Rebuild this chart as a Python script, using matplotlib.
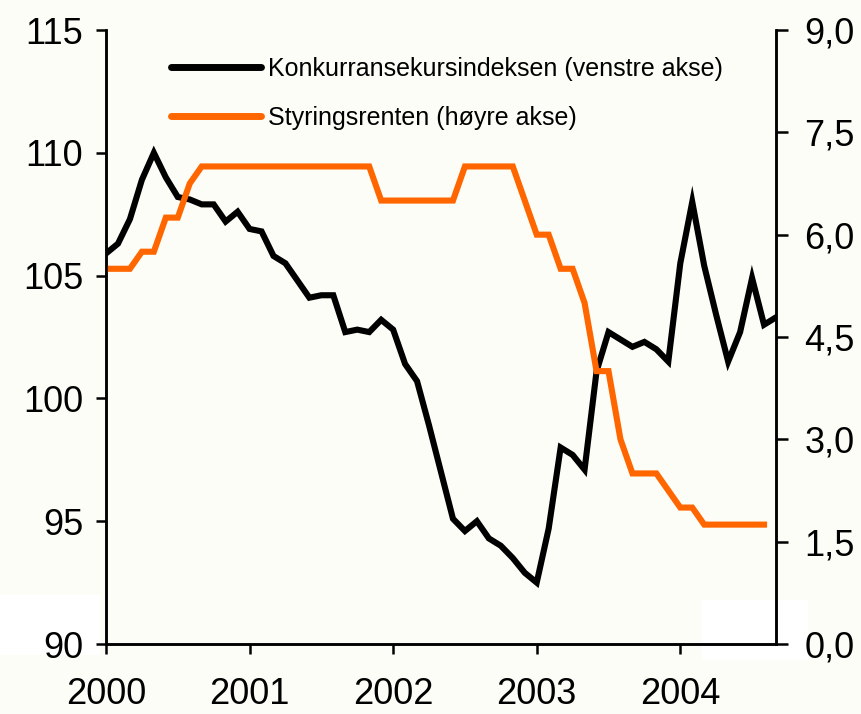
import matplotlib
matplotlib.use("Agg")
import matplotlib.pyplot as plt
from matplotlib.patches import Rectangle

# Monthly data, Jan 2000 .. Sep 2004
kki = [105.9, 106.3, 107.3, 108.9, 110.0, 109.0, 108.2, 108.1, 107.9, 107.9, 107.2, 107.6,
       106.9, 106.8, 105.8, 105.5, 104.8, 104.1, 104.2, 104.2, 102.7, 102.8, 102.7, 103.2,
       102.8, 101.4, 100.7, 98.9, 97.0, 95.1, 94.6, 95.0, 94.3, 94.0, 93.5, 92.9,
       92.5, 94.7, 98.0, 97.7, 97.1, 101.1, 102.7, 102.4, 102.1, 102.3, 102.0, 101.5,
       105.5, 108.0, 105.4, 103.4, 101.5, 102.7, 104.9, 103.0, 103.3]
rate = [5.5, 5.5, 5.5, 5.75, 5.75, 6.25, 6.25, 6.75, 7.0, 7.0, 7.0, 7.0,
        7.0, 7.0, 7.0, 7.0, 7.0, 7.0, 7.0, 7.0, 7.0, 7.0, 7.0, 6.5,
        6.5, 6.5, 6.5, 6.5, 6.5, 6.5, 7.0, 7.0, 7.0, 7.0, 7.0, 6.5,
        6.0, 6.0, 5.5, 5.5, 5.0, 4.0, 4.0, 3.0, 2.5, 2.5, 2.5, 2.25,
        2.0, 2.0, 1.75, 1.75, 1.75, 1.75, 1.75, 1.75]
year_labels = ["2000", "2001", "2002", "2003", "2004"]
left_ticks = [90, 95, 100, 105, 110, 115]
right_ticks = [0.0, 1.5, 3.0, 4.5, 6.0, 7.5, 9.0]
label_kki = "Konkurransekursindeksen (venstre akse)"
label_rate = "Styringsrenten (høyre akse)"

bg = "#fcfdf7"
font = ["Liberation Sans", "DejaVu Sans"]
plt.rcParams["font.family"] = font

W, H = 861, 714
fig = plt.figure(figsize=(W / 100, H / 100), dpi=100, facecolor=bg)
# faint white patches present in the reference (behind everything)
fig.patches.append(Rectangle((0 / W, 1 - 655 / H), 100 / W, 60 / H, transform=fig.transFigure,
                             facecolor="white", edgecolor="none", zorder=-10))
fig.patches.append(Rectangle((702 / W, 1 - 660 / H), 106 / W, 60 / H, transform=fig.transFigure,
                             facecolor="white", edgecolor="none", zorder=-10))

left, right, top, bottom = 106, 776, 30, 644
ax = fig.add_axes([left / W, 1 - bottom / H, (right - left) / W, (bottom - top) / H])
ax.set_facecolor("none")
ax2 = ax.twinx()

x1 = list(range(len(kki)))
x2 = list(range(len(rate)))
l1, = ax.plot(x1, kki, color="black", lw=4.4, solid_joinstyle="miter", zorder=3)
l2, = ax2.plot(x2, rate, color="#ff6600", lw=4.4, solid_joinstyle="miter", zorder=2)

ax.set_xlim(0, len(kki) - 1)
ax.set_ylim(90, 115)
ax2.set_ylim(0, 9)

ax.set_xticks([12 * i for i in range(len(year_labels))])
ax.set_xticklabels(year_labels)
ax.set_yticks(left_ticks)
ax.set_yticklabels([str(v) for v in left_ticks])
ax2.set_yticks(right_ticks)
ax2.set_yticklabels([f"{v:.1f}".replace(".", ",") for v in right_ticks])

for a in (ax, ax2):
    for s in a.spines.values():
        s.set_linewidth(1.8)
    a.spines["top"].set_visible(False)

ax.tick_params(axis="x", direction="out", length=7.5, width=1.8, pad=16.5, labelsize=26)
ax.tick_params(axis="y", direction="out", length=7.5, width=1.8, pad=9, labelsize=26)
ax2.tick_params(axis="y", direction="out", length=8.5, width=1.8, pad=12, labelsize=26)

leg = ax.legend([l1, l2], [label_kki, label_rate], loc="upper left",
                bbox_to_anchor=(171 / W, 1 - 57 / H), bbox_transform=fig.transFigure,
                frameon=False, fontsize=18, handlelength=3.6, handletextpad=0.3,
                labelspacing=0.98, borderpad=0, borderaxespad=0)
for h in leg.get_lines():
    h.set_linewidth(5)
    h.set_solid_capstyle("round")

fig.savefig("out.png", dpi=100, facecolor=bg)
